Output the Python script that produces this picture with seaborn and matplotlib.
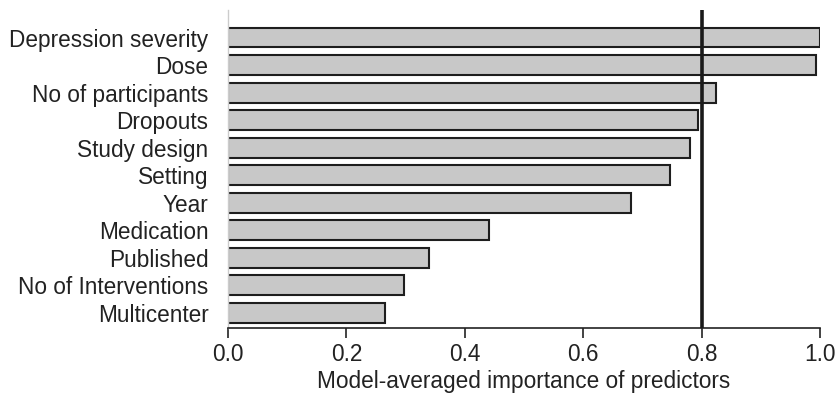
import matplotlib
matplotlib.use("Agg")
import matplotlib.pyplot as plt
import seaborn as sns
import pandas as pd

predictors = ["Depression severity", "Dose", "No of participants", "Dropouts",
              "Study design", "Setting", "Year", "Medication", "Published",
              "No of Interventions", "Multicenter"]
importance = [1.0, 0.993, 0.824, 0.794, 0.78, 0.746, 0.68, 0.441, 0.339, 0.297, 0.265]
threshold = 0.8
xticks = [0.0, 0.2, 0.4, 0.6, 0.8, 1.0]

df = pd.DataFrame({"predictor": predictors, "importance": importance})

sns.set_style("white")
plt.rcParams['font.family'] = ['Liberation Sans', 'DejaVu Sans']

fig = plt.figure(figsize=(8.36, 3.97), dpi=100)
ax = fig.add_axes([228/836, 1-328/397, (820-228)/836, (328-10)/397])

sns.barplot(data=df, x="importance", y="predictor", orient="h", ax=ax,
            color="#c8c8c8", edgecolor="#1e1e1e", linewidth=1.5,
            width=0.72, saturation=1)
ax.axvline(threshold, color="#1a1a1a", lw=2.6, zorder=5)

fs = 16.3
ax.set_xlim(0, 1.0)
ax.set_ylim(10.55, -1.0)
ax.set_xticks(xticks)
ax.set_xticklabels([f"{t:.1f}" for t in xticks], fontsize=fs, color="#222222")
ax.tick_params(axis="x", direction="out", length=7, width=1.2, color="#222222", pad=4, bottom=True)
ax.tick_params(axis="y", length=0, pad=14, labelsize=fs, labelcolor="#222222")
ax.set_ylabel("")
ax.set_xlabel("Model-averaged importance of predictors", fontsize=fs, color="#222222", labelpad=3)

for s in ["top", "right"]:
    ax.spines[s].set_visible(False)
ax.spines["left"].set_color("#cccccc")
ax.spines["left"].set_linewidth(1.0)
ax.spines["bottom"].set_color("#222222")
ax.spines["bottom"].set_linewidth(1.2)

fig.savefig("out.png", dpi=100)
